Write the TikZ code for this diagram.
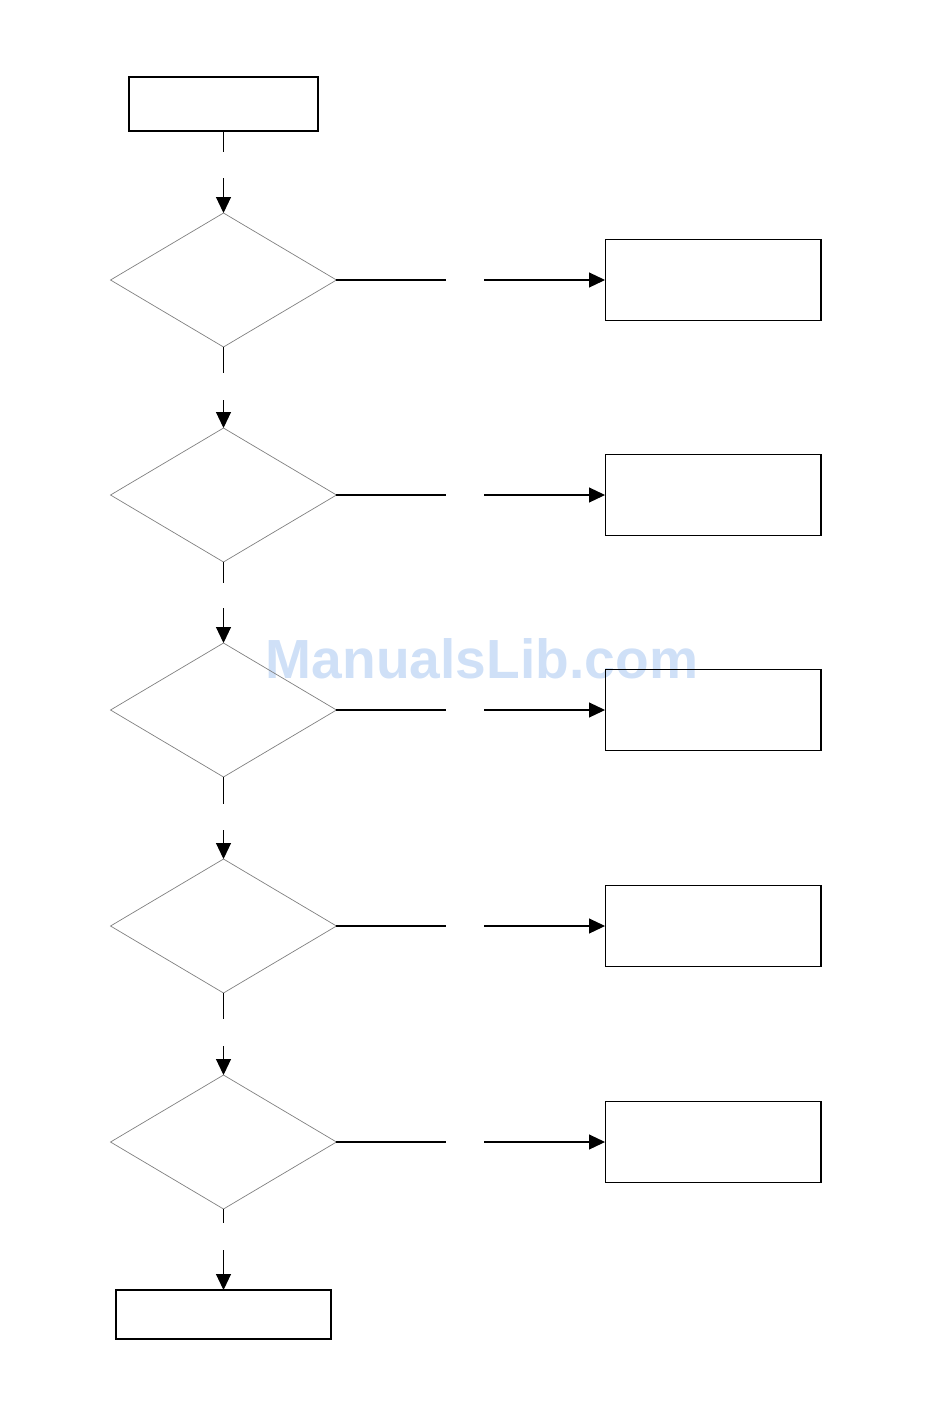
\documentclass[tikz,border=0pt]{standalone}
\usepackage{fontspec}
\newfontfamily\markfont{Liberation Sans}
\usetikzlibrary{shapes.geometric,arrows.meta}
\definecolor{MarkBlue}{HTML}{CFE0F7}

\tikzset{
  stepbox/.style={draw,line width=0.6pt,inner sep=0pt,outer sep=0pt},
  testnode/.style={diamond,draw=gray,line width=0.4pt,inner sep=0pt,outer sep=0pt,
    minimum width=4.52cm,minimum height=2.68cm},
  flow/.style={line width=0.6pt},
  flowarrow/.style={line width=0.6pt,-{Triangle[length=0.32cm,width=0.3cm]}}
}

\begin{document}
\begin{tikzpicture}[x=0.02cm,y=-0.02cm]
  \useasboundingbox (0,0) rectangle (950,1420);
  % watermark
  \node[text=MarkBlue,font=\markfont\bfseries\fontsize{31.4}{31.4}\selectfont,anchor=base,inner sep=0pt]
    (mark) at (482,678) {ManualsLib.com};
  \node[stepbox,minimum width=3.78cm,minimum height=1.08cm] (start) at (223.5,104) {};
  \foreach \n/\y in {1/280,2/495,3/710,4/926,5/1142} {
    \node[testnode] (test\n) at (223.5,\y) {};
    \node[stepbox,minimum width=4.32cm,minimum height=1.62cm] (act\n) at (713,\y) {};
    \coordinate (hgapA\n) at (446,\y);
    \coordinate (hgapB\n) at (484,\y);
    \draw[flow] (test\n.east) -- (hgapA\n);
    \draw[flowarrow] (hgapB\n) -- (act\n.west);
  }
  \node[stepbox,minimum width=4.30cm,minimum height=0.98cm] (finish) at (223.5,1314.5) {};
  % vertical connectors with gaps
  \foreach \from/\to/\ya/\yb/\k in {start/test1/152/178/0,test1/test2/373/400/1,
      test2/test3/583/608/2,test3/test4/804/830/3,test4/test5/1019/1046/4,
      test5/finish/1223/1250/5} {
    \coordinate (vgapA\k) at (223.5,\ya);
    \coordinate (vgapB\k) at (223.5,\yb);
    \draw[flow] (\from.south) -- (vgapA\k);
    \draw[flowarrow] (vgapB\k) -- (\to.north);
  }
\end{tikzpicture}
\end{document}
